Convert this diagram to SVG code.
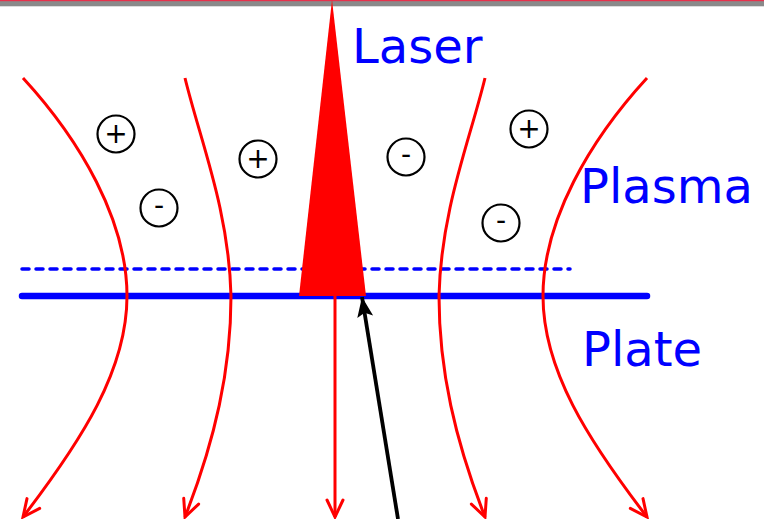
<svg xmlns="http://www.w3.org/2000/svg" width="764" height="519" viewBox="0 0 764 519">
<style>
.lbl{font-family:"DejaVu Sans","Verdana",sans-serif;font-size:48px;fill:#0000ff}
.fl{fill:none;stroke:#ff0000;stroke-width:3}
.chg circle{fill:#ffffff;stroke:#000000;stroke-width:2.2}
.sg{font-family:"DejaVu Sans",sans-serif;font-size:28px;fill:#000000;text-anchor:middle}
</style>
<defs>
<marker id="oa" markerUnits="userSpaceOnUse" markerWidth="40" markerHeight="40" viewBox="-20 -20 40 40" refX="0" refY="0" orient="auto">
<path d="M-17,-8 L0,0 L-17,8" fill="none" stroke="#ff0000" stroke-width="3" stroke-linecap="round" stroke-linejoin="miter"/>
</marker>
<marker id="ba" markerUnits="userSpaceOnUse" markerWidth="50" markerHeight="50" viewBox="-25 -25 50 50" refX="0" refY="0" orient="auto">
<path d="M0,0 L-20,-8 L-16,0 L-20,8 Z" fill="#000000"/>
</marker>
</defs>
<rect width="764" height="519" fill="#ffffff"/>
<g id="topbar">
<rect x="0" y="0" width="764" height="6.3" fill="#8a8a8a"/>
<rect x="0" y="0" width="764" height="1.2" fill="#e8304c"/>
</g>
<g id="plasma-boundary">
<line x1="22" y1="269" x2="570" y2="269" stroke="#0000ff" stroke-width="3.5" stroke-dasharray="7,7" stroke-linecap="round"/>
</g>
<g id="plate">
<line x1="22" y1="296" x2="647" y2="296" stroke="#0000ff" stroke-width="6.5" stroke-linecap="round"/>
</g>
<g id="laser">
<polygon points="332,0 366,296 299,296" fill="#ff0000"/>
</g>
<g id="connectors">
<path class="fl" d="M23,78 C80,140 127,220 127,296 C127,370 82,440 23,517" marker-end="url(#oa)"/>
<path class="fl" d="M185,78 C200,140 229,210 231,296 C231,370 215,440 185,517" marker-end="url(#oa)"/>
<path class="fl" d="M335,296 L335,517" marker-end="url(#oa)"/>
<path class="fl" d="M485,78 C470,140 441,210 439,296 C439,370 455,440 485,517" marker-end="url(#oa)"/>
<path class="fl" d="M647,78 C590,140 543,220 543,296 C543,370 588,440 647,517" marker-end="url(#oa)"/>
<line x1="398" y1="519" x2="362" y2="297" stroke="#000000" stroke-width="3.8" marker-end="url(#ba)"/>
</g>
<g id="charge1" class="chg"><circle cx="116" cy="134" r="18.5"/><text class="sg" x="116" y="142.8">+</text></g>
<g id="charge2" class="chg"><circle cx="159" cy="208" r="18.5"/><text class="sg" x="159" y="215">-</text></g>
<g id="charge3" class="chg"><circle cx="258" cy="159" r="18.5"/><text class="sg" x="258" y="167.8">+</text></g>
<g id="charge4" class="chg"><circle cx="406" cy="157" r="18.5"/><text class="sg" x="406" y="164">-</text></g>
<g id="charge5" class="chg"><circle cx="529" cy="129" r="18.5"/><text class="sg" x="529" y="137.8">+</text></g>
<g id="charge6" class="chg"><circle cx="501" cy="223" r="18.5"/><text class="sg" x="501" y="230">-</text></g>
<g id="label-laser"><text class="lbl" x="352" y="63">Laser</text></g>
<g id="label-plasma"><text class="lbl" x="580" y="203">Plasma</text></g>
<g id="label-plate"><text class="lbl" x="582" y="366">Plate</text></g>
</svg>
